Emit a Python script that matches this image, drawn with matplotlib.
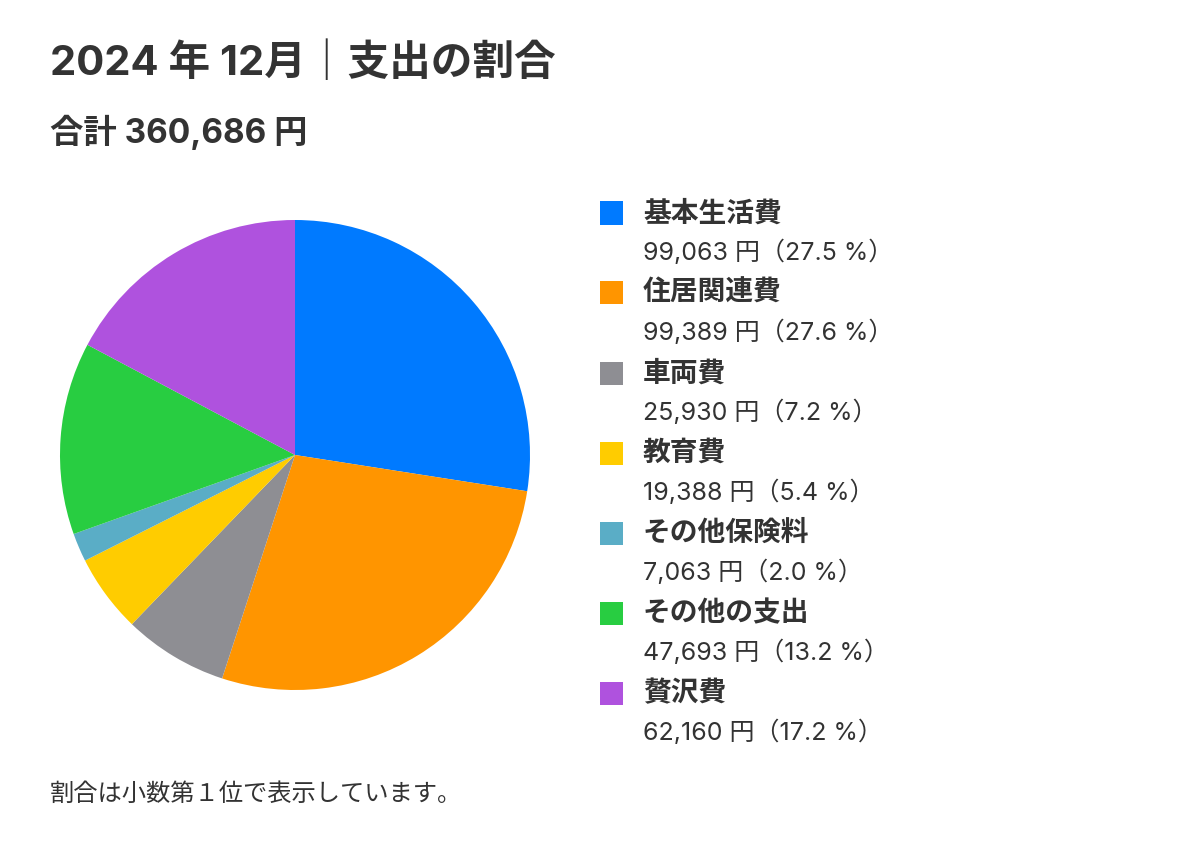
import matplotlib
matplotlib.use("Agg")
import matplotlib.pyplot as plt
from matplotlib.patches import Rectangle

plt.rcParams['font.family'] = ['Inter', 'Noto Sans CJK JP', 'DejaVu Sans']

categories = ["基本生活費", "住居関連費", "車両費", "教育費", "その他保険料", "その他の支出", "贅沢費"]
values = [99063, 99389, 25930, 19388, 7063, 47693, 62160]
colors = ["#007AFF", "#FF9500", "#8E8E93", "#FFCC00", "#5AADC6", "#28CD41", "#AF52DE"]
title = "2024 年 12月｜支出の割合"
note = "割合は小数第１位で表示しています。"

total = sum(values)
W, H = 1200, 850
fig = plt.figure(figsize=(W / 100, H / 100), dpi=100)
fig.patch.set_facecolor("white")

def fx(x):
    return x / W

def fy(y):
    return 1 - y / H

txt = "#333333"
fig.text(fx(50), fy(62), title, fontsize=30, fontweight="bold", color=txt, va="center", ha="left")
fig.text(fx(50), fy(132), f"合計 {total:,} 円", fontsize=24, fontweight="bold", color=txt, va="center", ha="left")

# pie
cx, cy, r = 295, 455, 235
ax = fig.add_axes([fx(cx - r), fy(cy + r), 2 * r / W, 2 * r / H])
ax.pie(values, colors=colors, startangle=90, counterclock=False, radius=1,
       wedgeprops=dict(linewidth=0))
ax.set_xlim(-1, 1)
ax.set_ylim(-1, 1)
ax.set_aspect("equal")
ax.axis("off")

# legend
y0, step = 213, 80
for i, (name, v, c) in enumerate(zip(categories, values, colors)):
    y = y0 + i * step
    fig.patches.append(Rectangle((fx(600), fy(y + 11.5)), 23 / W, 23 / H,
                                 transform=fig.transFigure, facecolor=c, edgecolor="none"))
    fig.text(fx(643), fy(y + 1), name, fontsize=20, fontweight="bold", color=txt, va="center", ha="left")
    pct = v / total * 100
    fig.text(fx(643), fy(y + 39), f"{v:,} 円（{pct:.1f} %）", fontsize=18, color=txt,
             va="center", ha="left")

fig.text(fx(50), fy(794), note, fontsize=17.5, color=txt, va="center", ha="left")

fig.savefig("out.png", dpi=100, facecolor="white")
